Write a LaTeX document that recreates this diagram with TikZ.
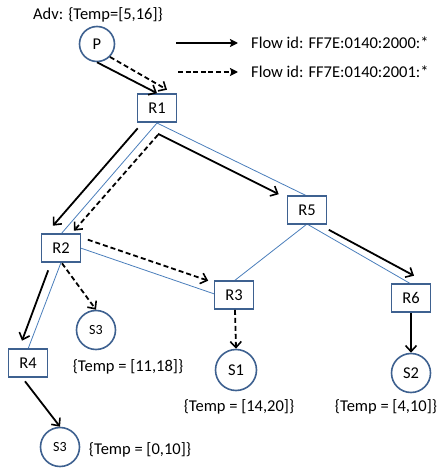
\documentclass[tikz,border=0pt]{standalone}
\usepackage{fontspec}
\setmainfont{Carlito}
\usetikzlibrary{arrows.meta}
\definecolor{boxblue}{HTML}{3E6190}
\definecolor{linkblue}{HTML}{4A7EBB}
\begin{document}
\begin{tikzpicture}[x=1pt,y=-1pt,
  font=\fontsize{16.5}{19}\selectfont,
  router/.style={draw=boxblue,line width=1.6pt,fill=white,minimum width=39pt,minimum height=28pt,inner sep=0pt},
  host/.style={circle,draw=boxblue,line width=1.6pt,fill=white,minimum size=39pt,inner sep=0pt},
  link/.style={linkblue,line width=0.8pt},
  flow/.style={line width=1.8pt,-{Straight Barb[length=6pt,width=11pt,line width=1.6pt]}},
  flowdash/.style={flow,dash pattern=on 5pt off 3pt},
  legarrow/.style={line width=1.8pt,-{Stealth[length=8pt,width=8pt,inset=1.5pt]}},
  label/.style={inner sep=0pt}]
\useasboundingbox (0,0) rectangle (438,468);

% topology links
\draw[link] (157,123) coordinate (r1s) -- (61,234) coordinate (r2n);
\draw[link] (r1s) -- (307,196);
\draw[link] (80.5,248) -- (214.5,294);
\draw[link] (61,262.5) -- (28,349);
\draw[link] (307,224) -- (234,281);
\draw[link] (307,224) -- (411,284);

% nodes
\node[host,minimum size=35pt] (P) at (97,44) {P};
\node[router] (R1) at (157,108) {R1};
\node[router] (R2) at (61,248) {R2};
\node[router] (R5) at (307,210) {R5};
\node[router] (R3) at (234,295) {R3};
\node[router] (R6) at (411,298) {R6};
\node[router] (R4) at (28,363) {R4};
\node[host,font=\fontsize{14}{16}\selectfont] (S3a) at (96,330) {S3};
\node[host,font=\fontsize{14}{16}\selectfont] (S3b) at (60,447) {S3};
\node[host,minimum size=41pt] (S1) at (236,370) {S1};
\node[host] (S2) at (411,373) {S2};

% flows
\draw[flow] (P.south) -- (R1.north);
\draw[flowdash] (P.south east) -- ([shift={(10,-3.5)}]R1.north);
\draw[flow] ([shift={(1,5.5)}]R1.south west) -- ([shift={(-8,-7.5)}]R2.north);
\draw[flowdash] ([shift={(1,12)}]R1.south) -- ([shift={(13,-2.5)}]R2.north);
\draw[flow] ([shift={(1,11)}]R1.south) -- ([shift={(-8,-1)}]R5.north west);
\draw[flow] ([shift={(1.5,5)}]R5.south east) -- ([shift={(3,-7.5)}]R6.north);
\draw[flowdash] ([shift={(6.5,6.5)}]R2.north east) -- ([shift={(-5.5,0.5)}]R3.north west);
\draw[flowdash] ([shift={(1,0.5)}]R2.south) -- (S3a.north);
\draw[flow] ([shift={(7.5,7.5)}]R2.south west) -- ([shift={(-6,-7.5)}]R4.north);
\draw[flow] ([shift={(-3,3.5)}]R4.south) -- (S3b.north);
\draw[flowdash] ([shift={(1,0)}]R3.south) -- (S1.north);
\draw[flow] (R6.south) -- (S2.north);

% legend
\coordinate (l1a) at (176,43);
\coordinate (l1b) at (238,43);
\coordinate (l2a) at (178,72);
\coordinate (l2b) at (238,72);
\draw[legarrow] (l1a) -- (l1b);
\draw[legarrow,dash pattern=on 5pt off 2.6pt] (l2a) -- (l2b);
\node[label,anchor=west] (t1) at (251,43) {Flow id: FF7E:0140:2000:*};
\node[label,anchor=west] (t2) at (251,72) {Flow id: FF7E:0140:2001:*};

% temperature labels
\node[label] (adv) at (98,15) {Adv: \{Temp=[5,16]\}};
\node[label] (tS3a) at (128,367) {\{Temp = [11,18]\}};
\node[label] (tS3b) at (140,450) {\{Temp = [0,10]\}};
\node[label] (tS1) at (239,407) {\{Temp = [14,20]\}};
\node[label] (tS2) at (386,407) {\{Temp = [4,10]\}};
\end{tikzpicture}
\end{document}
